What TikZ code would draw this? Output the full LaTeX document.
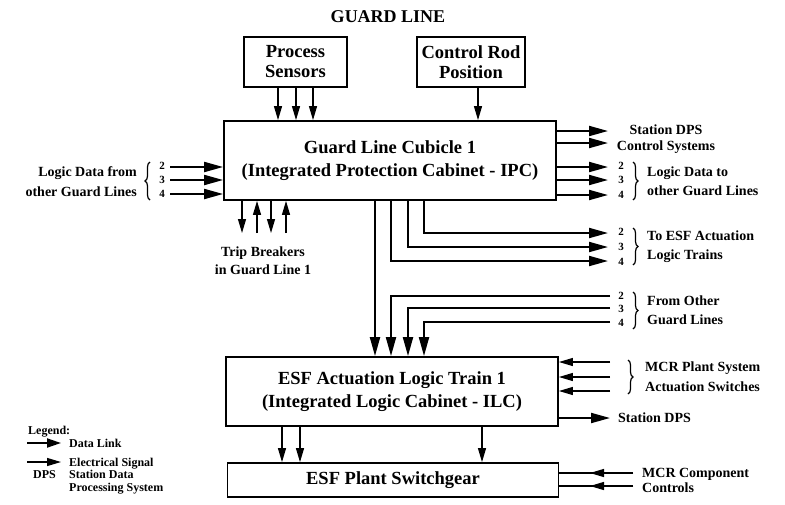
\documentclass[tikz,border=0pt]{standalone}
\usepackage{fontspec}
\setmainfont{Liberation Serif}
\usetikzlibrary{arrows.meta,decorations.pathreplacing}
\tikzset{
 box/.style={draw,line width=1.8pt,inner sep=0pt,align=center,font=\fontsize{18.5}{23}\selectfont\bfseries},
 sbox/.style={box,font=\fontsize{18.5}{20}\selectfont\bfseries},
 lbl/.style={inner sep=0pt,font=\fontsize{14}{19}\selectfont\bfseries},
 lbltight/.style={inner sep=0pt,font=\fontsize{14}{15.5}\selectfont\bfseries},
 num/.style={inner sep=0pt,font=\fontsize{11}{11}\selectfont\bfseries},
 leg/.style={inner sep=0pt,anchor=base west,font=\fontsize{12}{13}\selectfont\bfseries},
 data/.style={line width=2pt,-{Triangle[length=19pt,width=10pt]}},
 legdata/.style={line width=2pt,-{Triangle[length=14pt,width=9pt]}},
 elec/.style={line width=1.2pt,-{Triangle[length=14pt,width=8pt]}},
 eline/.style={line width=1.2pt},
 brc/.style={line width=1.2pt,decorate,decoration={brace,amplitude=5pt}},
}
\begin{document}
\begin{tikzpicture}[x=1pt,y=-1pt]
\useasboundingbox (0,0) rectangle (785,504);
% title
\node[inner sep=0pt,font=\fontsize{18}{20}\selectfont\bfseries] (title) at (388,17) {GUARD LINE};
% boxes
\node[sbox,minimum width=103pt,minimum height=50pt] (ps) at (295.5,62) {Process\\Sensors};
\node[sbox,minimum width=108pt,minimum height=50pt] (cr) at (471,62) {Control Rod\\Position};
\node[box,minimum width=332pt,minimum height=79pt] (gl) at (390,160.5) {Guard Line Cubicle 1\\(Integrated Protection Cabinet - IPC)};
\node[box,minimum width=332pt,minimum height=69pt] (esf) at (392,391.5) {ESF Actuation Logic Train 1\\(Integrated Logic Cabinet - ILC)};
\node[box,minimum width=331pt,minimum height=34pt] (sw) at (393,480) {ESF Plant Switchgear};
% coordinates
\coordinate (v1) at (375,0);
\coordinate (v2) at (391,0);
\coordinate (v3) at (408,0);
\coordinate (v4) at (424,0);
\coordinate (li2) at (170,167);
\coordinate (li3) at (170,180);
\coordinate (li4) at (170,194);
\coordinate (so1) at (608,131);
\coordinate (so2) at (608,143);
\coordinate (lo2) at (608,167);
\coordinate (lo3) at (608,180);
\coordinate (lo4) at (608,195);
\coordinate (te2) at (608,233);
\coordinate (te3) at (608,247);
\coordinate (te4) at (608,261);
\coordinate (fo2) at (610,296);
\coordinate (fo3) at (610,308);
\coordinate (fo4) at (610,322);
\coordinate (tb1) at (242,233);
\coordinate (tb2) at (257,233);
\coordinate (tb3) at (271,233);
\coordinate (tb4) at (286,233);
\coordinate (w1) at (282,0);
\coordinate (w2) at (300,0);
\coordinate (w3) at (482,0);
\coordinate (mp1) at (610,362);
\coordinate (mp2) at (610,377);
\coordinate (mp3) at (610,391);
\coordinate (sd) at (610,418);
\coordinate (mc1) at (633,473);
\coordinate (mc2) at (633,486);
\coordinate (lg1a) at (27,443);
\coordinate (lg1b) at (61,443);
\coordinate (lg2a) at (27,462);
\coordinate (lg2b) at (61,462);
% process sensors and control rod
\draw[elec] ([xshift=-17.5pt]ps.south) -- ([xshift=-17.5pt]ps.south |- gl.north);
\draw[elec] ([xshift=0.5pt]ps.south) -- ([xshift=0.5pt]ps.south |- gl.north);
\draw[elec] ([xshift=17.5pt]ps.south) -- ([xshift=17.5pt]ps.south |- gl.north);
\draw[elec] ([xshift=7pt]cr.south) -- ([xshift=7pt]cr.south |- gl.north);
% left inputs
\draw[data] (li2) -- (li2 -| gl.west);
\draw[data] (li3) -- (li3 -| gl.west);
\draw[data] (li4) -- (li4 -| gl.west);
\node[num] (n2l) at (162,166) {2};
\node[num] (n3l) at (162,180) {3};
\node[num] (n4l) at (162,194) {4};
\draw[brc] (150,200) -- (150,162);
\node[lbl,align=right,anchor=east,font=\fontsize{14}{20}\selectfont\bfseries] (ldf) at (137,182) {Logic Data from\\other Guard Lines};
% right outputs
\draw[data] (so1 -| gl.east) -- (so1);
\draw[data] (so2 -| gl.east) -- (so2);
\node[lbltight,align=center] (sdps) at (666,139) {Station DPS\\Control Systems};
\draw[data] (lo2 -| gl.east) -- (lo2);
\draw[data] (lo3 -| gl.east) -- (lo3);
\draw[data] (lo4 -| gl.east) -- (lo4);
\node[num] (n2a) at (621,166) {2};
\node[num] (n3a) at (621,180) {3};
\node[num] (n4a) at (621,195) {4};
\draw[brc] (633,162) -- (633,200);
\node[lbl,align=left,anchor=west] (ldt) at (647,181.5) {Logic Data to\\other Guard Lines};
% trip breakers
\draw[elec] (tb1 |- gl.south) -- (tb1);
\draw[elec] (tb2) -- (tb2 |- gl.south);
\draw[elec] (tb3 |- gl.south) -- (tb3);
\draw[elec] (tb4) -- (tb4 |- gl.south);
\node[lbl,align=center,font=\fontsize{14}{18}\selectfont\bfseries] (trip) at (263,261) {Trip Breakers\\in Guard Line 1};
% to ESF actuation logic trains
\draw[data] (v4 |- gl.south) |- (te2);
\draw[data] (v3 |- gl.south) |- (te3);
\draw[data] (v2 |- gl.south) |- (te4);
\node[num] (n2b) at (621,232) {2};
\node[num] (n3b) at (621,247) {3};
\node[num] (n4b) at (621,262) {4};
\draw[brc] (633,228) -- (633,265);
\node[lbl,align=left,anchor=west] (tesf) at (647,246.5) {To ESF Actuation\\Logic Trains};
% main vertical
\draw[data] (v1 |- gl.south) -- (v1 |- esf.north);
% from other guard lines
\draw[data] (fo2) -| (v2 |- esf.north);
\draw[data] (fo3) -| (v3 |- esf.north);
\draw[data] (fo4) -| (v4 |- esf.north);
\node[num] (n2c) at (621,296) {2};
\node[num] (n3c) at (621,309) {3};
\node[num] (n4c) at (621,323) {4};
\draw[brc] (633,292) -- (633,329);
\node[lbl,align=left,anchor=west] (fogl) at (647,310) {From Other\\Guard Lines};
% MCR plant system
\draw[elec] (mp1) -- (mp1 -| esf.east);
\draw[elec] (mp2) -- (mp2 -| esf.east);
\draw[elec] (mp3) -- (mp3 -| esf.east);
\draw[brc] (628,360) -- (628,394);
\node[lbl,align=left,anchor=west,font=\fontsize{14}{20}\selectfont\bfseries] (mcrp) at (645,377) {MCR Plant System\\Actuation Switches};
% station DPS
\draw[data] (sd -| esf.east) -- (sd);
\node[lbl,anchor=west] (sdps2) at (618,418) {Station DPS};
% ESF to switchgear
\draw[elec] (w1 |- esf.south) -- (w1 |- sw.north);
\draw[elec] (w2 |- esf.south) -- (w2 |- sw.north);
\draw[elec] (w3 |- esf.south) -- (w3 |- sw.north);
% MCR component controls
\draw[eline] (mc1) -- (mc1 -| sw.east);
\draw[elec] (mc1) -- ++(-43,0);
\draw[eline] (mc2) -- (mc2 -| sw.east);
\draw[elec] (mc2) -- ++(-43,0);
\node[lbltight,align=left,anchor=west] (mcrc) at (642,480.5) {MCR Component\\Controls};
% legend
\node[leg] (legt) at (28,434) {Legend:};
\draw[legdata] (lg1a) -- (lg1b);
\node[leg] (legd) at (69,447) {Data Link};
\draw[elec] (lg2a) -- (lg2b);
\node[leg] (lege) at (69,466) {Electrical Signal};
\node[leg] (legdps) at (33,478) {DPS};
\node[leg] (legsd1) at (69,478) {Station Data};
\node[leg] (legsd2) at (69,491) {Processing System};
\end{tikzpicture}
\end{document}
